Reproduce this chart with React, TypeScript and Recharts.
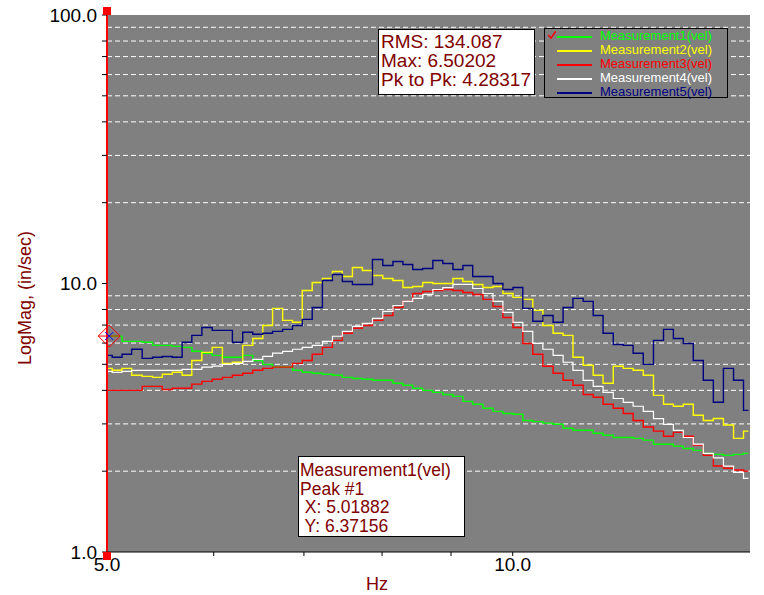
import React from "react";
import {
  LineChart,
  Line,
  XAxis,
  YAxis,
  ReferenceArea,
  ReferenceLine,
  ReferenceDot,
} from "recharts";

// frequency bins (Hz)
const FREQ = [
  5.0, 5.09, 5.17, 5.26, 5.36, 5.45, 5.54, 5.64, 5.73, 5.83, 5.93, 6.04, 6.14,
  6.25, 6.36, 6.47, 6.58, 6.69, 6.81, 6.92, 7.04, 7.16, 7.29, 7.41, 7.54, 7.67,
  7.8, 7.94, 8.08, 8.22, 8.36, 8.5, 8.65, 8.8, 8.95, 9.11, 9.26, 9.42, 9.59,
  9.75, 9.92, 10.09, 10.26, 10.44, 10.62, 10.81, 10.99, 11.18, 11.38, 11.57,
  11.77, 11.98, 12.18, 12.39, 12.61, 12.83, 13.05, 13.27, 13.5, 13.73, 13.97,
  14.21, 14.46, 14.71, 14.96,
];

const MEAS1 = [
  6.37, 6.36, 6.09, 6.09, 6.04, 5.88, 5.88, 5.83, 5.78, 5.59, 5.5, 5.4, 5.31,
  5.31, 5.4, 5.17, 5.0, 4.88, 4.88, 4.75, 4.67, 4.63, 4.59, 4.55, 4.47, 4.43,
  4.4, 4.36, 4.36, 4.25, 4.18, 4.07, 4.0, 3.93, 3.86, 3.8, 3.64, 3.55, 3.43,
  3.34, 3.28, 3.26, 3.09, 3.06, 3.02, 2.99, 2.89, 2.84, 2.84, 2.77, 2.72, 2.67,
  2.67, 2.65, 2.61, 2.52, 2.52, 2.48, 2.43, 2.39, 2.33, 2.31, 2.29, 2.31, 2.33,
];

const MEAS2 = [
  4.83, 4.75, 4.83, 4.55, 4.51, 4.47, 4.59, 4.67, 4.55, 5.17, 5.54, 5.78, 5.04,
  5.09, 5.88, 6.24, 6.98, 8.08, 7.29, 7.17, 9.42, 10.09, 10.44, 11.09, 10.62,
  11.47, 11.18, 10.71, 10.44, 10.26, 9.66, 9.75, 10.09, 10.0, 10.0, 10.44,
  10.17, 9.92, 9.66, 9.75, 9.18, 8.88, 8.73, 7.94, 6.98, 6.53, 6.41, 5.31, 4.96,
  4.55, 4.25, 4.92, 4.83, 4.75, 4.55, 3.83, 3.55, 3.49, 3.55, 3.23, 3.09, 3.14,
  2.97, 2.65, 2.82,
];

const MEAS3 = [
  4.0, 4.0, 4.0, 4.0, 4.14, 4.14, 4.03, 4.07, 4.07, 4.22, 4.32, 4.4, 4.47, 4.55,
  4.63, 4.75, 4.83, 4.88, 4.88, 5.04, 5.17, 5.45, 5.78, 6.14, 6.53, 6.81, 6.98,
  7.29, 7.6, 8.14, 8.58, 9.18, 9.34, 9.42, 9.5, 9.42, 9.26, 9.1, 8.73, 8.21,
  7.47, 6.86, 5.98, 5.45, 4.92, 4.63, 4.36, 4.18, 3.86, 3.77, 3.55, 3.43, 3.28,
  3.09, 2.92, 2.82, 2.7, 2.79, 2.7, 2.5, 2.29, 2.09, 2.05, 2.02, 2.0,
];

const MEAS4 = [
  4.71, 4.67, 4.71, 4.75, 4.75, 4.75, 4.75, 4.75, 4.79, 4.79, 4.88, 4.92, 5.0,
  5.04, 5.13, 5.22, 5.35, 5.5, 5.59, 5.69, 5.78, 5.88, 6.09, 6.36, 6.63, 6.92,
  7.1, 7.41, 7.87, 8.28, 8.58, 8.8, 9.11, 9.5, 9.66, 9.92, 9.92, 9.58, 9.18,
  8.58, 7.81, 7.17, 6.63, 5.98, 5.69, 5.4, 5.09, 4.75, 4.36, 4.14, 3.93, 3.73,
  3.61, 3.49, 3.34, 3.14, 2.99, 2.84, 2.67, 2.52, 2.33, 2.24, 2.09, 1.98, 1.88,
];

const MEAS5 = [
  5.4, 5.31, 5.45, 5.69, 5.26, 5.31, 5.35, 5.31, 6.04, 6.41, 6.86, 6.69, 6.69,
  6.04, 6.58, 6.47, 6.53, 6.63, 6.75, 6.98, 7.35, 8.14, 10.26, 10.8, 10.17,
  9.92, 9.92, 12.28, 11.67, 12.08, 11.77, 11.27, 11.37, 12.18, 11.87, 11.27,
  11.67, 10.62, 10.62, 10.0, 9.5, 9.66, 8.08, 7.23, 7.6, 7.17, 8.14, 8.8, 8.58,
  7.6, 6.53, 5.93, 5.88, 5.5, 5.0, 6.14, 6.75, 6.24, 5.98, 5.17, 4.36, 3.61,
  4.83, 4.36, 3.37,
];

const SERIES = [
  { key: "m1", name: "Measurement1(vel)", color: "#00ff00", values: MEAS1 },
  { key: "m2", name: "Measurement2(vel)", color: "#ffff00", values: MEAS2 },
  { key: "m3", name: "Measurement3(vel)", color: "#ff0000", values: MEAS3 },
  { key: "m4", name: "Measurement4(vel)", color: "#ffffff", values: MEAS4 },
  { key: "m5", name: "Measurement5(vel)", color: "#000080", values: MEAS5 },
];

const X_TICKS = [5, 10];
const X_MINOR = [6, 7, 8, 9];
const Y_TICKS = [1, 2, 3, 4, 5, 6, 7, 8, 9, 10, 20, 30, 40, 50, 60, 70, 80, 90, 100];
const Y_LABELED = [1, 10, 100];
const GRID_VALUES = [2, 3, 4, 5, 6, 7, 8, 9, 20, 30, 40, 50, 60, 70, 80, 90];

const STATS = ["RMS: 134.087", "Max: 6.50202", "Pk to Pk: 4.28317"];
const PEAK = { series: "Measurement1(vel)", label: "Peak #1", x: 5.01882, y: 6.37156 };

const W = 764;
const H = 595;
const DARK_RED = "#800000";
const FONT = '"Liberation Sans", Arial, sans-serif';

const rows = FREQ.map((f, i) => {
  const row: Record<string, number> = { f };
  SERIES.forEach((s) => {
    row[s.key] = s.values[i];
  });
  return row;
});

const fmtX = (v: number) => v.toFixed(1);
const fmtY = (v: number) => (Y_LABELED.includes(v) ? v.toFixed(1) : "");

const Diamond = (props: any) => {
  const { cx, cy } = props;
  const r = 11;
  return (
    <g>
      <polygon
        points={`${cx},${cy - r} ${cx + r},${cy} ${cx},${cy + r} ${cx - r},${cy}`}
        fill="none"
        stroke="#ff0000"
        strokeWidth={1}
      />
      <line x1={cx - r} y1={cy} x2={cx + r} y2={cy} stroke="#ff0000" />
      <line x1={cx - 4} y1={cy - 4} x2={cx + 4} y2={cy + 4} stroke="#0000ff" />
      <line x1={cx - 4} y1={cy + 4} x2={cx + 4} y2={cy - 4} stroke="#0000ff" />
    </g>
  );
};

const TopSquare = (props: any) => (
  <rect x={props.cx - 4} y={props.cy - 8} width={8} height={8} fill="#ff0000" />
);
const BottomSquare = (props: any) => (
  <rect x={props.cx - 4} y={props.cy} width={8} height={8} fill="#ff0000" />
);

// small tick mark below the x axis, placed through the x scale
const MinorTick = (props: any) => (
  <line x1={props.cx} y1={props.cy} x2={props.cx} y2={props.cy + 4} stroke="#000" />
);

export default function App() {
  return (
    <div
      style={{
        position: "absolute",
        left: 0,
        top: 0,
        width: W,
        height: H,
        background: "#fff",
        fontFamily: FONT,
      }}
    >
      <LineChart
        width={W}
        height={H}
        data={rows}
        margin={{ top: 15, right: 14, left: 0, bottom: 0 }}
        style={{ fontFamily: FONT }}
      >
        <ReferenceArea
          x1={5}
          x2={15}
          y1={1}
          y2={100}
          fill="#808080"
          fillOpacity={1}
          stroke="none"
          ifOverflow="visible"
        />
        {GRID_VALUES.map((v) => (
          <ReferenceLine
            key={v}
            y={v}
            stroke="#ffffff"
            strokeDasharray="5 3"
            strokeWidth={1}
          />
        ))}
        <XAxis
          dataKey="f"
          type="number"
          scale="log"
          domain={[5, 15]}
          ticks={X_TICKS}
          allowDataOverflow
          tickFormatter={fmtX}
          height={43}
          tickSize={4}
          tickMargin={2}
          axisLine={{ stroke: "#000" }}
          tickLine={{ stroke: "#000" }}
          tick={{ fill: "#000", fontSize: 19 }}
        />
        <YAxis
          type="number"
          scale="log"
          domain={[1, 100]}
          ticks={Y_TICKS}
          allowDataOverflow
          tickFormatter={fmtY}
          width={107}
          tickSize={5}
          tickMargin={5}
          axisLine={false}
          tickLine={{ stroke: "#000" }}
          tick={{ fill: "#000", fontSize: 19 }}
        />
        {SERIES.map((s) => (
          <Line
            key={s.key}
            dataKey={s.key}
            name={s.name}
            type="step"
            stroke={s.color}
            strokeWidth={s.key === "m4" ? 1.2 : 1.4}
            dot={false}
            activeDot={false}
            isAnimationActive={false}
          />
        ))}
        {X_MINOR.map((v) => (
          <ReferenceDot key={v} x={v} y={1} ifOverflow="visible" shape={MinorTick} />
        ))}
        <ReferenceLine x={5} stroke="#ff0000" strokeWidth={2} ifOverflow="visible" />
        <ReferenceDot x={5} y={100} ifOverflow="visible" shape={TopSquare} />
        <ReferenceDot x={5} y={1} ifOverflow="visible" shape={BottomSquare} />
        <ReferenceDot x={PEAK.x} y={PEAK.y} ifOverflow="visible" shape={Diamond} />
      </LineChart>

      {/* axis titles */}
      <div
        style={{
          position: "absolute",
          left: 25,
          top: 298,
          transform: "translate(-50%, -50%) rotate(-90deg)",
          whiteSpace: "nowrap",
          color: DARK_RED,
          fontSize: 18,
        }}
      >
        LogMag, (in/sec)
      </div>
      <div
        style={{
          position: "absolute",
          left: 377,
          top: 584,
          transform: "translate(-50%, -50%)",
          color: DARK_RED,
          fontSize: 18,
        }}
      >
        Hz
      </div>

      {/* stats box */}
      <div
        style={{
          position: "absolute",
          left: 378,
          top: 29,
          width: 157,
          height: 66,
          boxSizing: "border-box",
          background: "#fff",
          border: "1px solid #000",
          color: DARK_RED,
          fontSize: 19,
          lineHeight: "19px",
          padding: "2px 0 0 2px",
          whiteSpace: "nowrap",
        }}
      >
        {STATS.map((t) => (
          <div key={t}>{t}</div>
        ))}
      </div>

      {/* legend */}
      <div
        style={{
          position: "absolute",
          left: 544,
          top: 28,
          width: 184,
          height: 70,
          boxSizing: "border-box",
          background: "#808080",
          border: "1px solid #000",
          fontSize: 13,
          lineHeight: "14px",
          whiteSpace: "nowrap",
        }}
      >
        {SERIES.map((s, i) => (
          <div key={s.key} style={{ position: "relative", height: 14 }}>
            {i === 0 && (
              <svg
                width={8}
                height={8}
                style={{ position: "absolute", left: 3, top: 2 }}
              >
                <polyline points="0,4 3,7 8,0" fill="none" stroke="#ff0000" strokeWidth={1.5} />
              </svg>
            )}
            <div
              style={{
                position: "absolute",
                left: 12,
                top: 7,
                width: 35,
                height: 1.5,
                background: s.color,
              }}
            />
            <span style={{ position: "absolute", left: 55, top: 0, color: s.color }}>
              {s.name}
            </span>
          </div>
        ))}
      </div>

      {/* peak marker box */}
      <div
        style={{
          position: "absolute",
          left: 298,
          top: 456,
          width: 167,
          height: 81,
          boxSizing: "border-box",
          background: "#fff",
          border: "1px solid #000",
          color: DARK_RED,
          fontSize: 17.5,
          lineHeight: "18.7px",
          padding: "4px 0 0 1px",
          whiteSpace: "pre",
        }}
      >
        <div>{PEAK.series}</div>
        <div>{PEAK.label}</div>
        <div>{` X: ${PEAK.x}`}</div>
        <div>{` Y: ${PEAK.y}`}</div>
      </div>
    </div>
  );
}
